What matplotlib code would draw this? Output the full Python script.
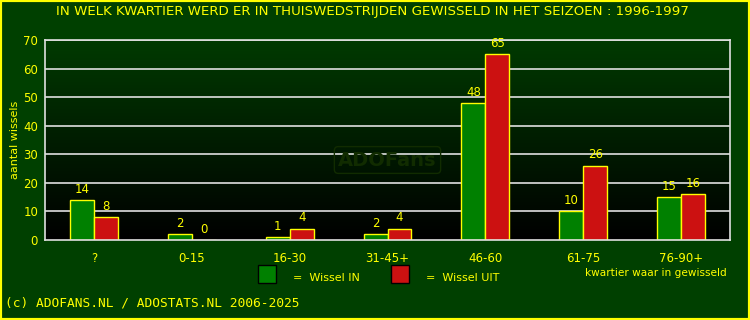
import numpy as np
import matplotlib.pyplot as plt
from matplotlib.patches import Rectangle
from matplotlib.colors import LinearSegmentedColormap

kwartier = ['?', '0-15', '16-30', '31-45+', '46-60', '61-75', '76-90+']
wissel_in = [14, 2, 1, 2, 48, 10, 15]
wissel_uit = [8, 0, 4, 4, 65, 26, 16]

geel = '#ffff00'
bg = '#004000'

fig = plt.figure(figsize=(7.5, 3.2), dpi=100, facecolor=bg)
ax = fig.add_axes([45/750, 80/320, 685/750, 200/320])

x = np.arange(len(kwartier))
w = 0.245

# achtergrond verloop groen -> zwart
grad = np.linspace(0, 1, 256).reshape(-1, 1)
cm = LinearSegmentedColormap.from_list('g', ['#000000', '#003a00'])
ax.imshow(grad, aspect='auto', cmap=cm, origin='lower',
          extent=[-0.5, 6.5, 0, 70], zorder=0)

for yv in range(10, 80, 10):
    ax.axhline(yv, color='#e0e0e0', lw=1.2, zorder=1)

ax.bar(x - w/2, wissel_in, w, color='#008000', edgecolor=geel, lw=1, zorder=2)
ax.bar(x + w/2, wissel_uit, w, color='#cc1111', edgecolor=geel, lw=1, zorder=2)

for i in range(len(x)):
    ax.text(x[i] - w/2, wissel_in[i] + 1.5, str(wissel_in[i]), color=geel,
            ha='center', va='bottom', fontsize=8.5, zorder=3)
    ax.text(x[i] + w/2, wissel_uit[i] + 1.5, str(wissel_uit[i]), color=geel,
            ha='center', va='bottom', fontsize=8.5, zorder=3)

ax.set_xlim(-0.5, 6.5)
ax.set_ylim(0, 70)
ax.set_xticks(x)
ax.set_xticklabels(kwartier)
ax.set_yticks(range(0, 80, 10))
ax.tick_params(colors=geel, labelsize=8.5, length=0, pad=9)
ax.tick_params(axis='y', pad=5)
for s in ax.spines.values():
    s.set_color('#e0e0e0')
    s.set_linewidth(1.2)
ax.set_ylabel('aantal wissels', color=geel, fontsize=8, va='center')
ax.yaxis.set_label_coords(-30/685, 0.5)

# watermerk
ax.text(3.0, 28, 'ADOFans', color='#112c00', fontsize=14, fontweight='bold',
        ha='center', va='center', zorder=1.5,
        bbox=dict(boxstyle='round,pad=0.2', fc='none', ec='#112c00', lw=1))

fig.text(0.497, 1 - 12/320, 'IN WELK KWARTIER WERD ER IN THUISWEDSTRIJDEN GEWISSELD IN HET SEIZOEN : 1996-1997',
         color=geel, fontsize=9.6, ha='center', va='center')

# legenda
fig.patches.append(Rectangle((258/750, 1 - 283/320), 18/750, 18/320, transform=fig.transFigure,
                             fc='#008000', ec='black', lw=1))
fig.text(293/750, 1 - 278/320, '=  Wissel IN', color=geel, fontsize=8, va='center')
fig.patches.append(Rectangle((391/750, 1 - 283/320), 18/750, 18/320, transform=fig.transFigure,
                             fc='#cc1111', ec='black', lw=1))
fig.text(426/750, 1 - 278/320, '=  Wissel UIT', color=geel, fontsize=8, va='center')

fig.text(727/750, 1 - 273/320, 'kwartier waar in gewisseld', color=geel, fontsize=7.6,
         ha='right', va='center')

fig.text(5/750, 1 - 303/320, '(c) ADOFANS.NL / ADOSTATS.NL 2006-2025', color=geel,
         fontsize=9.3, family='DejaVu Sans Mono', va='center')

fig.patches.append(Rectangle((0, 0), 1, 1, transform=fig.transFigure, fc='none',
                             ec=geel, lw=3))

fig.savefig('out.png', dpi=100, facecolor=bg)
